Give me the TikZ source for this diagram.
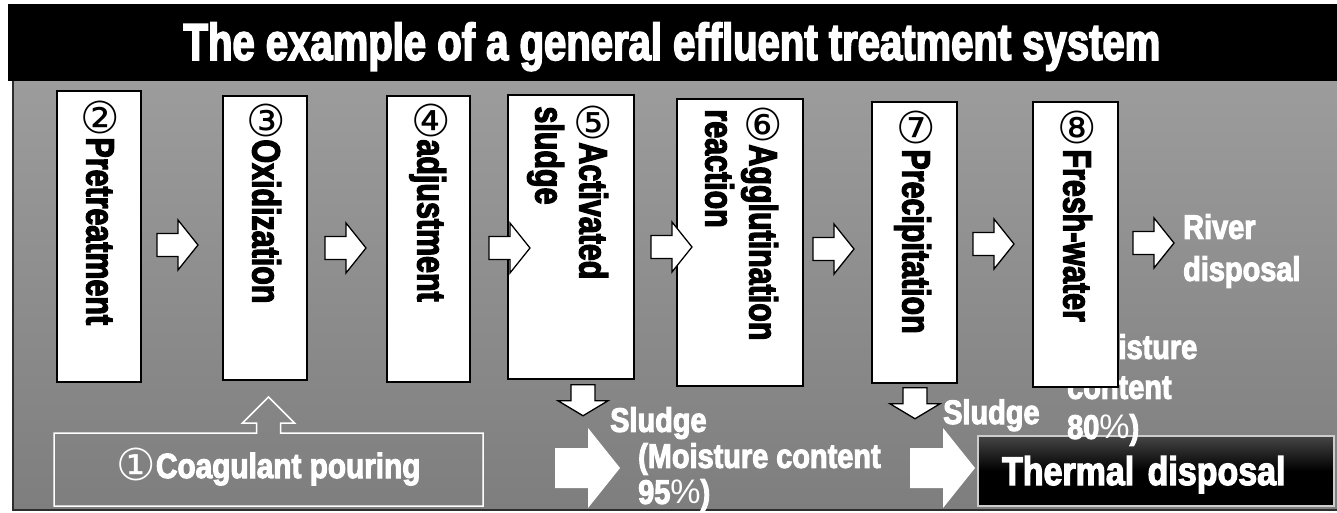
\documentclass[tikz,border=0pt]{standalone}
\usepackage{fontspec}
\setmainfont{Liberation Sans}
\newfontfamily\narrowfont{Liberation Sans}[FakeStretch=0.77, FakeBold=3]
\newfontfamily\heavyfont{Liberation Sans}[FakeStretch=0.85, FakeBold=3]
\newfontfamily\circfont{DejaVu Sans}
\usetikzlibrary{calc, positioning}

\definecolor{panelTop}{RGB}{156,156,156}
\definecolor{panelBot}{RGB}{126,126,126}
\definecolor{panelEdge}{RGB}{45,45,45}
\definecolor{thermalEdge}{RGB}{205,205,205}
\definecolor{thermalTop}{RGB}{70,70,70}

\newcommand{\narrow}[2]{\narrowfont\bfseries\fontsize{#1pt}{#2pt}\selectfont}
\newcommand{\heavy}[2]{\heavyfont\bfseries\fontsize{#1pt}{#2pt}\selectfont}
\newcommand{\pct}{{\normalfont\mdseries\%}}

% block arrows, #1 = centre of the tail
\newcommand{\rightblock}[1]{\draw[blockarrow] (#1) ++(0,-11.5) -- ++(21,0) -- ++(0,-13.5) -- ++(20,25) -- ++(-20,25) -- ++(0,-13.5) -- ++(-21,0) -- cycle;}
\newcommand{\downblock}[1]{\draw[blockarrow] (#1) ++(-12,0) -- ++(24,0) -- ++(0,16) -- ++(13,0) -- ++(-25,15) -- ++(-25,-15) -- ++(13,0) -- cycle;}
\newcommand{\bigblock}[1]{\fill[white] (#1) ++(0,-20) -- ++(33,0) -- ++(0,-20) -- ++(32,40) -- ++(-32,40) -- ++(0,-20) -- ++(-33,0) -- cycle;}

\tikzset{procbox/.style={draw=black, line width=1.5pt, fill=white, inner sep=0pt}}
\tikzset{blockarrow/.style={draw=black, line width=1.3pt, fill=white}}
\tikzset{cnum/.style={inner sep=0pt, font=\circfont\fontsize{44pt}{44pt}\selectfont}}
\tikzset{vlabel/.style={rotate=-90, anchor=west, inner sep=0pt, text height=27pt, text depth=0pt, font=\narrow{39.5}{44}}}
\tikzset{wlabel/.style={text=white, inner sep=0pt, font=\heavy{34}{36}}}

\begin{document}
\begin{tikzpicture}[x=1pt, y=-1pt]
    \useasboundingbox (0,0) rectangle (1337,512);
    \fill[white] (0,0) rectangle (1337,512);

    % panel and title bar
    \shade[top color=panelTop, bottom color=panelBot] (13,81) rectangle (1337,510);
    \draw[panelEdge, line width=2pt] (13,81) -- (13,510) -- (1337,510);
    \fill[black] (8,4) rectangle (1337,81);
    \node (title) at (672,60) [anchor=base, text=white, inner sep=0pt, font=\narrow{52}{52}] {The example of a general effluent treatment system};

    % thermal disposal, the note behind box 8
    \node (thermal) at (1156,471) [draw=thermalEdge, line width=1.2pt, top color=thermalTop, bottom color=black, middle color=black, minimum width=356pt, minimum height=70pt, text width=308pt, align=left, inner xsep=24pt, inner ysep=0pt, text height=28pt, text depth=0pt, text=white, font=\heavy{40}{40}] {Thermal disposal};
    \node (moist2) at (1067,334) [wlabel, anchor=north west, align=left, font=\heavy{34}{40}] {(Moisture\\content\\80\pct)};

    % process boxes
    \node[procbox, minimum width=84pt, minimum height=291pt] (b2) at (99,236.5) {};
    \node[procbox, minimum width=84pt, minimum height=284pt] (b3) at (265,238) {};
    \node[procbox, minimum width=83pt, minimum height=286pt] (b4) at (428.5,239) {};
    \node[procbox, minimum width=126pt, minimum height=284pt] (b5) at (571,237) {};
    \node[procbox, minimum width=126pt, minimum height=287pt] (b6) at (740,242.5) {};
    \node[procbox, minimum width=85pt, minimum height=281pt] (b7) at (914.5,242.5) {};
    \node[procbox, minimum width=85pt, minimum height=285pt] (b8) at (1075.5,244.5) {};

    \node[cnum] (n2) at ($(b2.north)+(1,27)$) {②};
    \node[vlabel] (l2) at ($(b2.north)+(1,47)$) {Pretreatment};
    \node[cnum] (n3) at ($(b3.north)+(1,25)$) {③};
    \node[vlabel] (l3) at ($(b3.north)+(1,44)$) {Oxidization};
    \node[cnum] (n4) at ($(b4.north)+(2.5,25)$) {④};
    \node[vlabel] (l4) at ($(b4.north)+(2.5,44)$) {adjustment};
    \node[cnum] (n5) at ($(b5.north)+(22,28)$) {⑤};
    \node[vlabel] (l5) at ($(b5.north)+(22,48)$) {Activated};
    \node[vlabel] (l5b) at ($(b5.north)+(-22,12)$) {sludge};
    \node[cnum] (n6) at ($(b6.north)+(23,26)$) {⑥};
    \node[vlabel] (l6) at ($(b6.north)+(23,46)$) {Agglutination};
    \node[vlabel] (l6b) at ($(b6.north)+(-21,11)$) {reaction};
    \node[cnum] (n7) at ($(b7.north)+(1.5,26)$) {⑦};
    \node[vlabel] (l7) at ($(b7.north)+(1.5,48)$) {Precipitation};
    \node[cnum] (n8) at ($(b8.north)+(1.5,26)$) {⑧};
    \node[vlabel] (l8) at ($(b8.north)+(1.5,48)$) {Fresh-water};

    % arrows between the boxes
    \coordinate (a23) at (157,245);
    \coordinate (a34) at (325,248);
    \coordinate (a45) at (489,248);
    \coordinate (a56) at (651,247);
    \coordinate (a67) at (813,249);
    \coordinate (a78) at (973,244);
    \coordinate (a8r) at (1133,243);
    \rightblock{a23}
    \rightblock{a34}
    \rightblock{a45}
    \rightblock{a56}
    \rightblock{a67}
    \rightblock{a78}
    \rightblock{a8r}
    \node (river) at (1183,214) [wlabel, anchor=north west, align=left, font=\heavy{34}{42}] {River\\disposal};

    % coagulant pouring
    \node (coag) at (268.5,469.5) [minimum width=429pt, minimum height=73pt, outer sep=0pt, inner sep=0pt, text=white, text height=25pt, text depth=8pt, font=\heavy{35}{35}] {\raisebox{-2pt}{\circfont\mdseries\fontsize{44pt}{44pt}\selectfont ①}Coagulant pouring};
    \draw[white, line width=1.5pt] ($(coag.north)+(-12,0)$) -- ++(0,-10) -- ++(-14,0) -- ++(26,-26) -- ++(26,26) -- ++(-14,0) -- ++(0,10) -- (coag.north east) -- (coag.south east) -- (coag.south west) -- (coag.north west) -- cycle;

    % sludge
    \downblock{$(b5.south)+(12,5)$}
    \downblock{$(b7.south)+(0.5,4)$}
    \coordinate (w1) at (555,468);
    \coordinate (w2) at (910,468);
    \bigblock{w1}
    \bigblock{w2}
    \node (sludge1) at (610,407) [wlabel, anchor=north west, align=left] {Sludge\\\hspace*{28pt}(Moisture content\\\hspace*{28pt}95\pct)};
    \node (sludge2) at (943,424) [wlabel, anchor=base west] {Sludge};
\end{tikzpicture}
\end{document}
